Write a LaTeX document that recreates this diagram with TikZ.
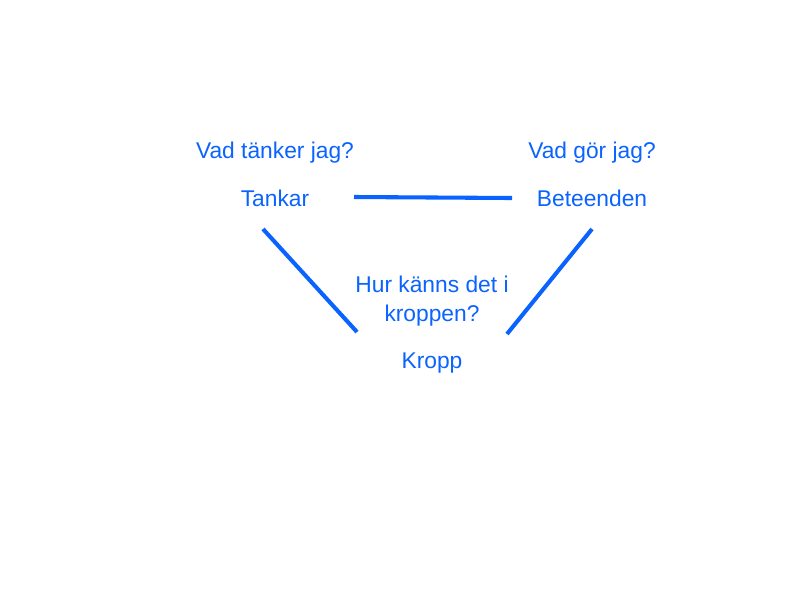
\documentclass[tikz,border=0pt]{standalone}
\usepackage{fontspec}
\setmainfont{Liberation Sans}
\usetikzlibrary{positioning}
\definecolor{ink}{HTML}{0A63FF}

\begin{document}
\begin{tikzpicture}[
        x=0.025cm, y=-0.025cm,
        every node/.style={text=ink, font=\fontsize{16.2}{20}\selectfont, align=center, inner sep=0pt},
        link/.style={draw=ink, line width=2.9pt}
    ]
        \useasboundingbox (0,0) rectangle (800,600);

        % de tre hörnen
        \node (Tankar) at (275,198) {Tankar};
        \node (Beteenden) at (592,198) {Beteenden};
        \node (Kropp) at (432,363) {Kropp};

        % frågorna
        \node (fTankar) at (275,153) {Vad tänker jag?};
        \node (fBeteenden) at (592,153) {Vad gör jag?};
        \node (fKropp) at (432,301) {Hur känns det i\\[1pt]kroppen?};

        % ändpunkter för linjerna
        \coordinate (a1) at (354,197);
        \coordinate (a2) at (512,198);
        \coordinate (b1) at (263,229);
        \coordinate (b2) at (357,332);
        \coordinate (c1) at (592,229);
        \coordinate (c2) at (507,334);

        \draw[link] (a1) -- (a2);
        \draw[link] (b1) -- (b2);
        \draw[link] (c1) -- (c2);
    \end{tikzpicture}
\end{document}
